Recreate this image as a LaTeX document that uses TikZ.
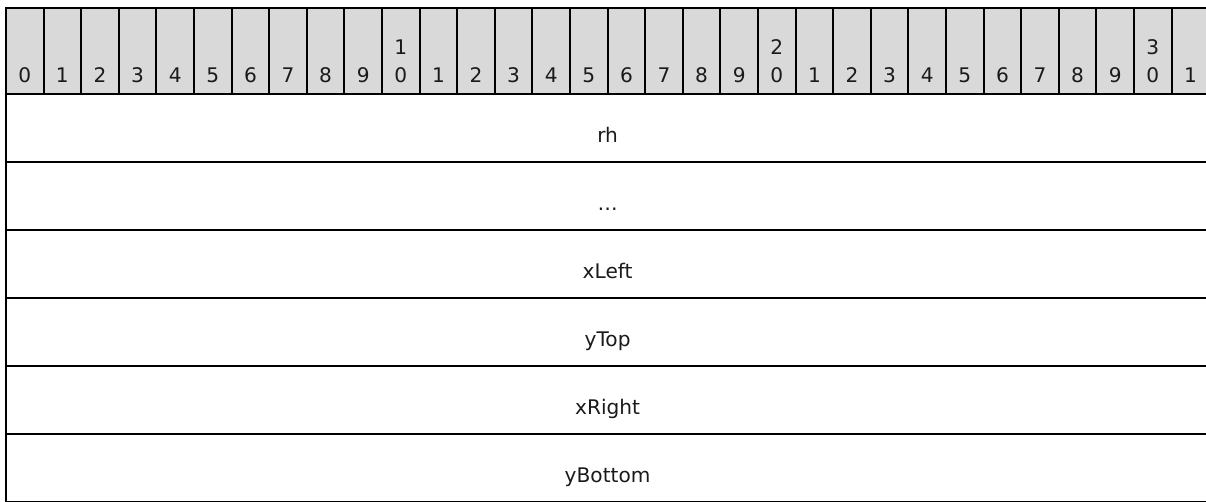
\documentclass[tikz,border=0pt]{standalone}
\usepackage{fontspec}
\setmainfont{DejaVu Sans}
\definecolor{hdr}{HTML}{D9D9D9}
\definecolor{txt}{HTML}{1A1A1A}
\begin{document}
\begin{tikzpicture}[x=1bp,y=-1bp,
  grid/.style={line width=2bp, black},
  lbl/.style={inner sep=0pt, anchor=base, text=txt, font=\fontsize{20.2}{24}\selectfont}]
\useasboundingbox (0,0) rectangle (1206,502);
\def\cw{37.6}
\fill[hdr] (6,8.5) rectangle (1209.2,94);
% header digits
\foreach \k in {0,...,31} {
  \pgfmathsetmacro{\cx}{6+\cw*(\k+0.5)}
  \pgfmathtruncatemacro{\u}{mod(\k,10)}
  \pgfmathtruncatemacro{\t}{div(\k,10)}
  \node[lbl] (b\k) at (\cx,82.5) {\u};
  \ifnum\u=0 \ifnum\t>0
    \node[lbl] (t\k) at (\cx,55) {\t};
  \fi\fi
}
% header column separators
\foreach \k in {1,...,31} {
  \pgfmathsetmacro{\vx}{6+\cw*\k}
  \draw[grid] (\vx,8.5) -- (\vx,94);
}
% rows
\foreach \i/\txt in {0/rh,1/…,2/xLeft,3/yTop,4/xRight,5/yBottom} {
  \pgfmathsetmacro{\ry}{94+68*\i}
  \node[lbl] (r\i) at (607.6,\ry+48.7) {\txt};
  \draw[grid] (6,\ry) -- (1209.2,\ry);
}
\draw[grid] (6,8.5) rectangle (1209.2,502);
\end{tikzpicture}
\end{document}
